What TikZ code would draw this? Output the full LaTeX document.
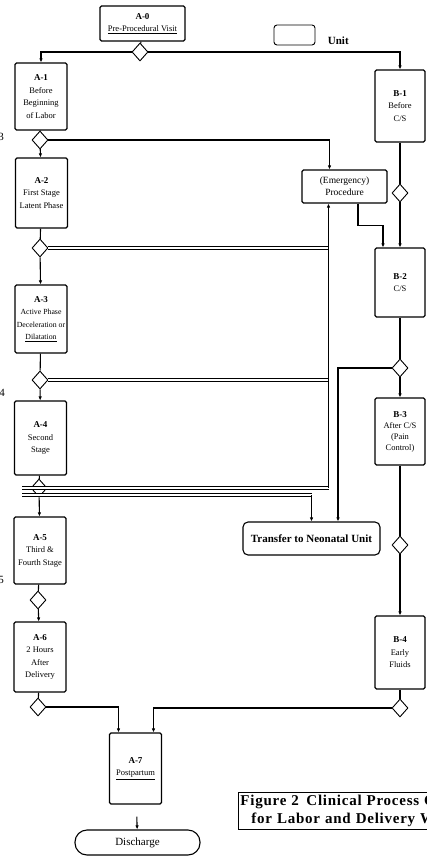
\documentclass[tikz,border=0pt]{standalone}
\usepackage{fontspec}
\setmainfont{Liberation Serif}
\newfontfamily\capfont[LetterSpace=5]{Liberation Serif}
\usetikzlibrary{shapes.geometric, arrows.meta, positioning}

\newcommand{\boxid}[1]{{\bfseries\fontsize{9}{12}\selectfont #1}}

\begin{document}
\begin{tikzpicture}[x=1pt, y=-1pt, line width=1.1pt,
    stepbox/.style={draw, rounded corners=1.5pt, align=center, inner sep=0.5pt,
        font=\fontsize{8.5}{12.5}\selectfont, minimum width=52pt},
    dec/.style={draw, diamond, minimum width=16pt, minimum height=18pt,
        inner sep=0pt, line width=0.9pt, fill=white},
    arr/.style={-{Latex[length=4pt,width=3.5pt]}},
    dbl/.style={double, double distance=1.5pt, line width=0.9pt}]

    \useasboundingbox (0,0) rectangle (426,858);

    % legend
    \node[draw, rounded corners=3pt, minimum width=41pt, minimum height=20pt, line width=0.9pt] (key) at (294.5,35) {};
    \node[anchor=west, font=\bfseries\fontsize{11}{12}\selectfont] (keytxt) at (324,41) {Unit};

    % main line
    \node[stepbox, minimum width=85pt, minimum height=35pt] (A0) at (142.5,23.5) {\boxid{A-0}\\\underline{Pre-Procedural Visit}};
    \node[dec] (D0) at (140,52) {};
    \node[stepbox, minimum height=67pt] (A1) at (41,96.5) {\boxid{A-1}\\Before\\Beginning\\of Labor};
    \node[dec] (D1) at (40,140) {};
    \node[stepbox, minimum height=70pt] (A2) at (41.5,193) {\boxid{A-2}\\First Stage\\Latent Phase};
    \node[dec] (D2) at (40,248) {};
    \node[stepbox, minimum height=68pt, font=\fontsize{7.8}{12.5}\selectfont] (A3) at (41,319) {\boxid{A-3}\\Active Phase\\Deceleration or\\\underline{Dilatation}};
    \node[dec] (D3) at (40,380) {};
    \node[stepbox, minimum height=74pt] (A4) at (40.5,438) {\boxid{A-4}\\Second\\Stage};
    \node[dec] (D4) at (39,488) {};
    \node[stepbox, minimum height=67pt] (A5) at (40,550.5) {\boxid{A-5}\\Third \&\\Fourth Stage};
    \node[dec] (D5) at (38,600) {};
    \node[stepbox, minimum height=70pt] (A6) at (40,657) {\boxid{A-6}\\2 Hours\\After\\Delivery};
    \node[dec] (D6) at (38,707) {};
    \node[stepbox, minimum height=71pt] (A7) at (135.5,768.5) {\boxid{A-7}\\\underline{Postpartum}};
    \node[stepbox, rounded corners=12pt, minimum width=125pt, minimum height=25pt,
        font=\fontsize{11}{12}\selectfont] (Dis) at (137.5,842.5) {Discharge};

    % second line
    \node[stepbox, minimum width=50pt, minimum height=72pt] (B1) at (400,106) {\boxid{B-1}\\Before\\C/S};
    \node[dec] (E1) at (400,193) {};
    \node[stepbox, minimum width=50pt, minimum height=69pt] (B2) at (400,282.5) {\boxid{B-2}\\C/S};
    \node[dec] (E2) at (400,368) {};
    \node[stepbox, minimum width=50pt, minimum height=67pt, font=\fontsize{8.5}{11}\selectfont] (B3) at (400,431.5) {\boxid{B-3}\\After C/S\\(Pain\\Control)};
    \node[dec] (E3) at (400,545) {};
    \node[stepbox, minimum width=50pt, minimum height=73pt] (B4) at (400,652.5) {\boxid{B-4}\\Early\\Fluids};
    \node[dec] (E4) at (400,708) {};

    \node[stepbox, minimum width=85pt, minimum height=33pt, font=\fontsize{9.5}{12}\selectfont] (Emg) at (344.5,186.5) {(Emergency)\\Procedure};
    \node[stepbox, rounded corners=5pt, minimum width=137pt, minimum height=33pt,
        font=\bfseries\fontsize{11}{12}\selectfont] (Trans) at (311.5,538.5) {Transfer to Neonatal Unit};

    % caption
    \node[draw, line width=0.9pt, anchor=north west, align=left, text width=320pt, inner sep=2pt,
        minimum height=37pt, font=\capfont\bfseries\fontsize{15}{17.5}\selectfont] (cap) at (238,792)
        {Figure 2\enspace Clinical Process Chart\\\hspace*{11pt}for Labor and Delivery Ward};

    % cut marks at the left edge
    \node[font=\fontsize{11}{11}\selectfont] (m3) at (1,137) {3};
    \node[font=\fontsize{11}{11}\selectfont] (m4) at (2,393) {4};
    \node[font=\fontsize{11}{11}\selectfont] (m5) at (1,580) {5};

    % connectors
    \coordinate (eb) at ([xshift=-16pt]Emg.south);
    \coordinate (er) at ([xshift=13.5pt]Emg.south);
    \coordinate (d4u) at ([xshift=-17pt]D4.center);
    \coordinate (d4l) at ([xshift=-17pt,yshift=-7pt]D4.center);
    \coordinate (d4t) at (d4l -| Trans.north);

    \draw (A0) -- (D0);
    \draw[arr] (D0) -| (A1);
    \draw[arr] (D0) -| (B1);
    \draw (A1) -- (D1);
    \draw[arr] (D1) -- (A2);
    \draw[arr] (D1) -| ([xshift=-15pt]Emg.north);
    \draw (A2) -- (D2);
    \draw[arr] (D2) -- (A3);
    \draw (A3) -- (D3);
    \draw[arr] (D3) -- (A4);
    \draw (A4) -- (D4);
    \draw[arr] (D4) -- (A5);
    \draw (A5) -- (D5);
    \draw[arr] (D5) -- (A6);
    \draw (A6) -- (D6);
    \draw[arr] (D6) -| ([xshift=-17pt]A7.north);
    \draw[arr, shorten <=12pt] (A7) -- (Dis);

    \draw[dbl] (D2) -- (D2 -| eb);
    \draw[dbl] (D3) -- (D3 -| eb);
    \draw[dbl] (d4u) -- (d4u -| eb);
    \draw[arr] (d4u -| eb) -- (eb);
    \draw[dbl] (d4l) -- (d4t);
    \draw[arr] (d4t) -- (Trans);

    \draw[arr] (er) -- ++(0,22) -| ([xshift=-17pt]B2.north);
    \draw (B1) -- (E1);
    \draw[arr] (E1) -- (B2);
    \draw (B2) -- (E2);
    \draw[arr] (E2) -- (B3);
    \draw[arr] (E2) -| ([xshift=26.5pt]Trans.north);
    \draw (B3) -- (E3);
    \draw[arr] (E3) -- (B4);
    \draw (B4) -- (E4);
    \draw[arr] (E4) -| ([xshift=18pt]A7.north);

\end{tikzpicture}
\end{document}
